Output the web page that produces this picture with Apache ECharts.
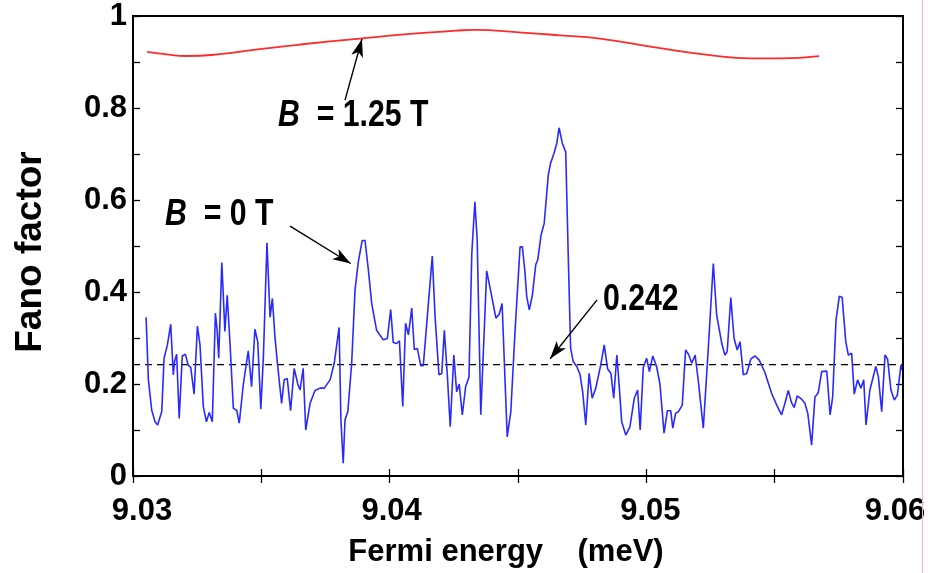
<!DOCTYPE html>
<html>
<head>
<meta charset="utf-8">
<script src="https://cdn.jsdelivr.net/npm/echarts@6/dist/echarts.min.js"></script>
<style>
html,body{margin:0;padding:0;background:#fff;}
#chart{width:936px;height:573px;}
</style>
</head>
<body>
<div id="chart"></div>
<script>
// ---- Data ----
const energyB0 = [
9.03051,9.03060,9.03073,9.03086,9.03096,9.03112,9.03121,9.03134,9.03147,9.03157,
9.03162,9.03170,9.03180,9.03192,9.03204,9.03215,9.03225,9.03238,9.03251,9.03261,
9.03274,9.03286,9.03297,9.03309,9.03321,9.03328,9.03334,9.03346,9.03352,9.03358,
9.03367,9.03378,9.03391,9.03404,9.03414,9.03430,9.03449,9.03462,9.03475,9.03486,
9.03498,9.03508,9.03522,9.03534,9.03543,9.03553,9.03562,9.03569,9.03579,9.03589,
9.03601,9.03614,9.03628,9.03642,9.03651,9.03663,9.03673,9.03690,9.03709,9.03729,
9.03745,9.03768,9.03784,9.03803,9.03810,9.03819,9.03826,9.03837,9.03852,9.03865,
9.03878,9.03893,9.03904,9.03917,9.03930,9.03949,9.03975,9.03991,9.04004,9.04014,
9.04027,9.04038,9.04051,9.04062,9.04073,9.04086,9.04096,9.04108,9.04121,9.04131,
9.04166,9.04177,9.04192,9.04203,9.04213,9.04225,9.04236,9.04250,9.04261,9.04271,
9.04283,9.04296,9.04309,9.04320,9.04332,9.04341,9.04355,9.04378,9.04394,9.04414,
9.04427,9.04438,9.04458,9.04472,9.04488,9.04508,9.04517,9.04527,9.04534,9.04544,
9.04556,9.04569,9.04577,9.04590,9.04602,9.04618,9.04627,9.04640,9.04651,9.04660,
9.04673,9.04686,9.04696,9.04705,9.04715,9.04729,9.04742,9.04752,9.04764,9.04777,
9.04789,9.04803,9.04823,9.04836,9.04849,9.04862,9.04873,9.04885,9.04894,9.04904,
9.04920,9.04936,9.04953,9.04966,9.04976,9.04988,9.05001,9.05012,9.05025,9.05040,
9.05053,9.05069,9.05082,9.05095,9.05103,9.05114,9.05125,9.05140,9.05153,9.05164,
9.05177,9.05190,9.05202,9.05222,9.05241,9.05251,9.05261,9.05274,9.05294,9.05306,
9.05315,9.05329,9.05342,9.05354,9.05365,9.05378,9.05391,9.05407,9.05423,9.05440,
9.05462,9.05488,9.05508,9.05527,9.05540,9.05553,9.05566,9.05576,9.05588,9.05605,
9.05618,9.05629,9.05644,9.05657,9.05670,9.05683,9.05703,9.05716,9.05726,9.05739,
9.05752,9.05763,9.05777,9.05787,9.05800,9.05810,9.05823,9.05836,9.05847,9.05856,
9.05871,9.05894,9.05904,9.05917,9.05930,9.05940,9.05953,9.05966,9.05978,9.05992,
9.05997
];
const fanoB0 = [
0.345,0.209,0.143,0.118,0.111,0.140,0.256,0.285,0.330,0.220,
0.249,0.265,0.125,0.261,0.265,0.241,0.236,0.178,0.326,0.285,
0.151,0.118,0.138,0.118,0.354,0.316,0.256,0.464,0.390,0.314,
0.393,0.288,0.147,0.143,0.115,0.200,0.272,0.194,0.319,0.292,
0.145,0.259,0.507,0.345,0.386,0.303,0.249,0.245,0.158,0.209,
0.212,0.142,0.234,0.200,0.187,0.234,0.100,0.158,0.186,0.191,
0.191,0.209,0.245,0.323,0.122,0.028,0.122,0.140,0.245,0.404,
0.466,0.512,0.512,0.448,0.375,0.317,0.296,0.299,0.362,0.290,
0.288,0.294,0.151,0.332,0.307,0.365,0.275,0.277,0.240,0.240,
0.478,0.346,0.220,0.223,0.317,0.216,0.107,0.263,0.183,0.200,
0.133,0.194,0.215,0.484,0.596,0.513,0.133,0.446,0.401,0.343,
0.352,0.375,0.085,0.140,0.310,0.498,0.498,0.444,0.390,0.361,
0.393,0.459,0.470,0.524,0.549,0.654,0.680,0.701,0.723,0.757,
0.723,0.704,0.473,0.278,0.249,0.238,0.220,0.183,0.111,0.223,
0.169,0.191,0.243,0.285,0.233,0.223,0.169,0.263,0.198,0.118,
0.089,0.107,0.169,0.187,0.100,0.236,0.256,0.227,0.261,0.238,
0.200,0.093,0.142,0.142,0.104,0.136,0.140,0.154,0.274,0.265,
0.245,0.263,0.209,0.104,0.274,0.368,0.462,0.350,0.288,0.263,
0.270,0.388,0.299,0.274,0.292,0.220,0.223,0.254,0.261,0.252,
0.225,0.180,0.154,0.133,0.158,0.186,0.159,0.149,0.174,0.167,
0.158,0.136,0.067,0.172,0.181,0.227,0.228,0.133,0.172,0.339,
0.391,0.388,0.292,0.263,0.267,0.178,0.209,0.191,0.209,0.111,
0.187,0.238,0.216,0.140,0.263,0.254,0.187,0.165,0.176,0.241,
0.230
];
const energyB125 = [9.03055,9.03125,9.03206,9.03339,9.03495,9.03651,9.03884,9.04079,9.04258,
                    9.04329,9.04516,9.04664,9.04819,9.05053,9.05248,9.05404,9.05521,9.05673];
const fanoB125   = [0.922,0.917,0.913,0.917,0.928,0.938,0.951,0.961,0.968,
                    0.970,0.964,0.958,0.951,0.930,0.915,0.908,0.908,0.913];
const meanFano = 0.242;
const xRange = [9.03, 9.06];
const yRange = [0, 1];
const xLabelValues = [9.03, 9.04, 9.05, 9.06];
const yLabelValues = [0, 0.2, 0.4, 0.6, 0.8, 1];

const FONT = '"Liberation Sans", Arial, sans-serif';
const FS = 31;
const chart = echarts.init(document.getElementById('chart'));

// small per-label nudges so the tick labels sit where the reference has them
const xLabelPad = [[0,0,0,18],[0,0,0,4],[0,0,0,8],[0,16,0,0]];
function xFmt(v){
  const k = xLabelValues.findIndex(t => Math.abs(t - v) < 1e-7);
  return k >= 0 ? '{p' + k + '|' + xLabelValues[k].toFixed(2) + '}' : '';
}
function yFmt(v){
  const hit = yLabelValues.find(t => Math.abs(t - v) < 1e-7);
  if (hit === undefined) return '';
  return (hit === 0 || hit === 1) ? String(hit) : hit.toFixed(1);
}
const labelFont = { fontFamily: FONT, fontWeight: 'bold', fontSize: FS, color: '#000' };
const xRich = {};
xLabelPad.forEach((p, k) => { xRich['p' + k] = Object.assign({ padding: p }, labelFont); });

const axisCommon = {
  type: 'value',
  axisLine: { show: true, lineStyle: { color: '#000', width: 2 } },
  axisTick: { show: true, inside: true, length: 7, lineStyle: { color: '#000', width: 1.3 } },
  splitLine: { show: false }
};

const grid = { left: 133, right: 33, top: 16, bottom: 97, show: false };

chart.setOption({
  animation: false,
  backgroundColor: '#fff',
  grid: grid,
  xAxis: [
    Object.assign({}, axisCommon, {
      position: 'bottom', min: xRange[0], max: xRange[1], interval: 0.005,
      axisLabel: Object.assign({ formatter: xFmt, rich: xRich, margin: 20, showMinLabel: true, showMaxLabel: true }, labelFont),
      name: 'Fermi energy    (meV)', nameLocation: 'middle', nameGap: 61,
      nameTextStyle: Object.assign({ padding: [0, 24, 0, 0] }, labelFont)
    }),
    Object.assign({}, axisCommon, {
      position: 'top', min: xRange[0], max: xRange[1], interval: 0.005,
      axisLabel: { show: false }
    })
  ],
  yAxis: [
    Object.assign({}, axisCommon, {
      position: 'left', min: yRange[0], max: yRange[1], interval: 0.1,
      axisLabel: Object.assign({ formatter: yFmt, margin: 6, showMinLabel: true, showMaxLabel: true }, labelFont),
      name: 'Fano factor', nameLocation: 'middle', nameGap: 84,
      nameTextStyle: { fontFamily: FONT, fontWeight: 'bold', fontSize: 37, color: '#000', padding: [0, 12, 0, 0] }
    }),
    Object.assign({}, axisCommon, {
      position: 'right', min: yRange[0], max: yRange[1], interval: 0.1,
      axisLabel: { show: false }
    })
  ],
  series: [
    {
      name: 'B = 0 T', type: 'line', symbol: 'none',
      data: energyB0.map((e, i) => [e, fanoB0[i]]),
      lineStyle: { color: '#2a2aff', width: 1.6 }, z: 3
    },
    {
      name: 'B = 1.25 T', type: 'line', symbol: 'none', smooth: 0.5,
      data: energyB125.map((e, i) => [e, fanoB125[i]]),
      lineStyle: { color: '#ff2a2a', width: 1.8 }, z: 3
    },
    {
      name: 'mean', type: 'line', symbol: 'none',
      data: [[xRange[0], meanFano], [xRange[1], meanFano]],
      lineStyle: { color: '#000', width: 1.2, type: [7, 5] }, z: 2,
      markLine: {
        silent: true, animation: false,
        symbol: ['none', 'arrow'], symbolSize: [9, 18],
        label: { show: false },
        lineStyle: { color: '#000', width: 1.4, type: 'solid' },
        data: [
          [{ coord: [9.03826, 0.817] }, { coord: [9.03892, 0.950] }],
          [{ coord: [9.03612, 0.543] }, { coord: [9.03848, 0.462] }],
          [{ coord: [9.04808, 0.383] }, { coord: [9.04625, 0.255] }]
        ]
      }
    }
  ]
});

// annotations anchored in data coordinates (narrowed like the reference lettering)
const annots = [
  { at: [9.03565, 0.783], b: 'B', rest: '  = 1.25 T' },
  { at: [9.03125, 0.567], b: 'B', rest: '  = 0 T' },
  { at: [9.04831, 0.383], b: '', rest: '0.242' }
];
const graphics = annots.map(a => {
  const p = chart.convertToPixel({ xAxisIndex: 0, yAxisIndex: 0 }, a.at);
  return {
    type: 'text', x: p[0], y: p[1], z: 10, scaleX: 0.84,
    style: {
      text: (a.b ? '{i|' + a.b + '}' : '') + '{n|' + a.rest + '}',
      verticalAlign: 'middle', align: 'left',
      rich: {
        i: { fontFamily: FONT, fontWeight: 'bold', fontStyle: 'italic', fontSize: 36, fill: '#000' },
        n: { fontFamily: FONT, fontWeight: 'bold', fontSize: 36, fill: '#000' }
      }
    }
  };
});
graphics.push({
  type: 'rect', z: 5, silent: true,
  shape: { x: grid.left, y: grid.top, width: 936 - grid.left - grid.right, height: 573 - grid.top - grid.bottom },
  style: { fill: 'none', stroke: '#000', lineWidth: 2 }
});
graphics.push({
  type: 'line', z: 1, silent: true,
  shape: { x1: 922.5, y1: 0, x2: 922.5, y2: 573 },
  style: { stroke: '#f6b4b4', lineWidth: 1 }
});
chart.setOption({ graphic: graphics });
</script>
</body>
</html>
